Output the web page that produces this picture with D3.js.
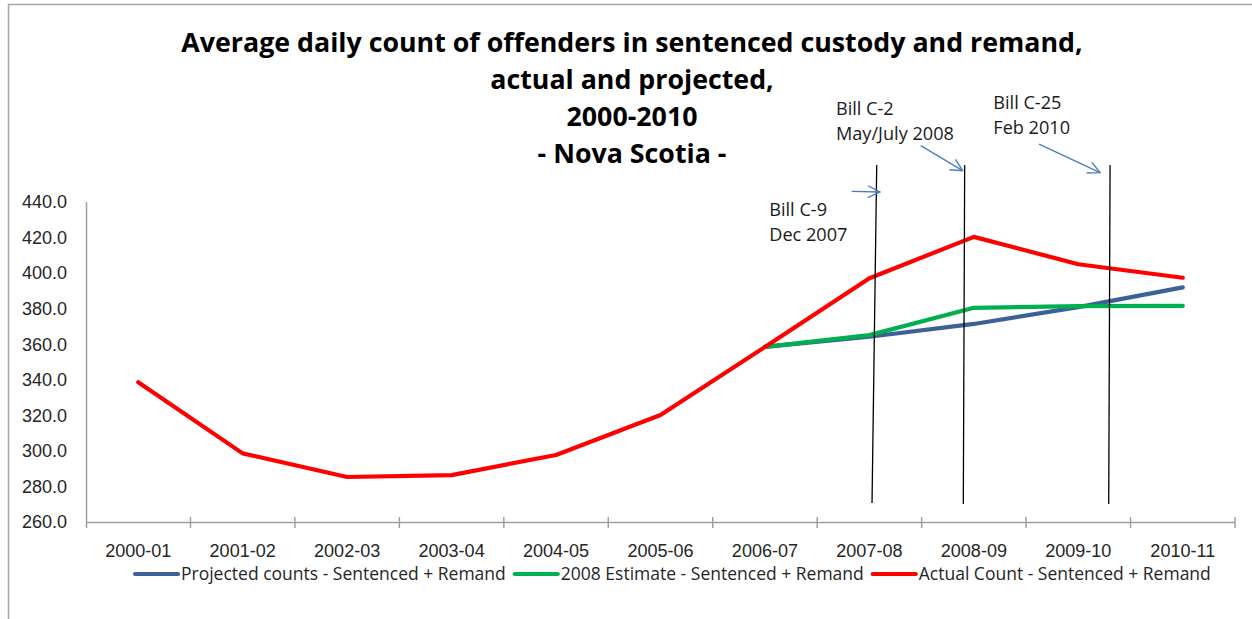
<!DOCTYPE html>
<html><head><meta charset="utf-8">
<script src="https://cdn.jsdelivr.net/npm/d3@7/dist/d3.min.js"></script>
<style>
html,body{margin:0;padding:0;background:#fff;}
svg{display:block;font-family:"Open Sans","Noto Sans",sans-serif;}
</style>
</head><body>
<svg id="chart" width="1252" height="619"></svg>
<script>
// ---- data ----
const categories = ["2000-01","2001-02","2002-03","2003-04","2004-05","2005-06","2006-07","2007-08","2008-09","2009-10","2010-11"];
const projectedCounts = [null,null,null,null,null,null,358.5,364.2,371.4,380.9,392.0];
const estimate2008    = [null,null,null,null,null,null,358.5,365.1,380.5,381.4,381.6];
const actualCount     = [338.6,298.6,285.3,286.4,297.7,320.2,358.5,397.1,420.4,405.0,397.4];
const seriesNames = ["Projected counts - Sentenced + Remand","2008 Estimate - Sentenced + Remand","Actual Count - Sentenced + Remand"];
const seriesColors = ["#3C6197","#00B050","#FF0000"];
const yTicks = [260,280,300,320,340,360,380,400,420,440];
const titleLines = ["Average daily count of offenders in sentenced custody and remand,","actual and projected,","2000-2010","- Nova Scotia -"];
// annotation markers, in category units (0..11) and value units
const billLabels = [["Bill C-9","Dec 2007"],["Bill C-2","May/July 2008"],["Bill C-25","Feb 2010"]];
const billLabelAt = [[6.541,432.1],[7.180,488.9],[8.686,492.1]];
const billLines = [[7.570,460.8,7.525,270.7],[8.412,460.8,8.399,270.1],[9.804,460.8,9.791,270.1]];
const billArrows = [[7.330,446.0,7.601,445.6],[7.991,471.7,8.393,457.6],[9.124,472.6,9.708,456.5]];

// ---- setup ----
const svg = d3.select("#chart");
const FONT_AXIS = "#262626";
function fit(str, weight, target){
  const t = svg.append("text").attr("font-size",100).attr("font-weight",weight).text(str);
  const w = t.node().getComputedTextLength(); t.remove();
  return 100*target/w;
}
const titleSize = fit(titleLines[0],"bold",902);
const axisSize = fit("440.0","normal",46);
const legendSize = fit(seriesNames[0],"normal",325);
const annoSize = fit("May/July 2008","normal",118);

const x = d3.scaleBand().domain(categories).range([86,1235]).padding(0);
const xu = d3.scaleLinear().domain([0,11]).range([86,1235]);
const y = d3.scaleLinear().domain([260,440]).range([522,202]);

// frame
svg.append("path").attr("d","M8.5,619 L8.5,4.5 L1252,4.5").attr("fill","none").attr("stroke","#A6A6A6").attr("stroke-width",1.5);

// title
svg.append("g").selectAll("text").data(titleLines).join("text")
  .attr("x",632).attr("y",(d,i)=>52+i*37)
  .attr("text-anchor","middle").attr("font-weight","bold").attr("font-size",titleSize)
  .attr("fill","#000").text(d=>d);

// y axis
const yAxis = svg.append("g").attr("transform","translate(86,0)")
  .call(d3.axisLeft(y).tickValues(yTicks).tickSize(0).tickPadding(19).tickFormat(d3.format(".1f")));
yAxis.select(".domain").remove();
yAxis.selectAll("text").attr("font-size",axisSize).attr("fill",FONT_AXIS).attr("font-family","inherit");
svg.append("line").attr("x1",86.5).attr("x2",86.5).attr("y1",y(440)).attr("y2",y(260)+6)
  .attr("stroke","#A0A0A0").attr("stroke-width",1.5);

// x axis
const xAxis = svg.append("g").attr("transform",`translate(0,${y(260)})`)
  .call(d3.axisBottom(x).tickSize(0).tickPadding(22));
xAxis.select(".domain").remove();
xAxis.selectAll("text").attr("font-size",axisSize).attr("fill",FONT_AXIS).attr("font-family","inherit");
svg.append("line").attr("x1",86).attr("x2",1235).attr("y1",y(260)+0.5).attr("y2",y(260)+0.5)
  .attr("stroke","#A0A0A0").attr("stroke-width",1.5);
svg.append("g").selectAll("line").data(d3.range(1,12)).join("line")
  .attr("x1",d=>xu(d)).attr("x2",d=>xu(d)).attr("y1",y(260)-5).attr("y2",y(260)+6)
  .attr("stroke","#A0A0A0").attr("stroke-width",1.5);

// series
const allSeries = [projectedCounts, estimate2008, actualCount];
const line = d3.line().defined(d=>d.v!=null).x(d=>x(d.c)+x.bandwidth()/2).y(d=>y(d.v));
svg.append("g").selectAll("path").data(allSeries).join("path")
  .attr("d",s=>line(s.map((v,i)=>({c:categories[i],v}))))
  .attr("fill","none").attr("stroke",(s,i)=>seriesColors[i]).attr("stroke-width",4.2)
  .attr("stroke-linejoin","round").attr("stroke-linecap","round");

// annotations
svg.append("defs").append("marker").attr("id","arr")
  .attr("viewBox","0 0 14 14").attr("markerWidth",14).attr("markerHeight",14)
  .attr("refX",13).attr("refY",7).attr("orient","auto").attr("markerUnits","userSpaceOnUse")
  .append("path").attr("d","M1,1 L13,7 L1,13").attr("fill","none").attr("stroke","#4A7EC3").attr("stroke-width",1.4);
svg.append("g").selectAll("line").data(billLines).join("line")
  .attr("x1",d=>xu(d[0])).attr("y1",d=>y(d[1])).attr("x2",d=>xu(d[2])).attr("y2",d=>y(d[3]))
  .attr("stroke","#000").attr("stroke-width",1.3);
svg.append("g").selectAll("line").data(billArrows).join("line")
  .attr("x1",d=>xu(d[0])).attr("y1",d=>y(d[1])).attr("x2",d=>xu(d[2])).attr("y2",d=>y(d[3]))
  .attr("stroke","#4A7EC3").attr("stroke-width",1.4).attr("marker-end","url(#arr)");
const ag = svg.append("g");
billLabels.forEach((lines,k)=>{
  lines.forEach((s,j)=>{
    ag.append("text").attr("x",xu(billLabelAt[k][0])).attr("y",y(billLabelAt[k][1])+j*24.5)
      .attr("font-size",annoSize).attr("fill","#1a1a1a").text(s);
  });
});

// legend
const lg = svg.append("g");
let lx = 135;
const ly = 574;
seriesNames.forEach((n,i)=>{
  lg.append("line").attr("x1",lx).attr("x2",lx+43).attr("y1",ly).attr("y2",ly)
    .attr("stroke",seriesColors[i]).attr("stroke-width",4.2).attr("stroke-linecap","round");
  const t = lg.append("text").attr("x",lx+46).attr("y",ly+6).attr("font-size",legendSize)
    .attr("fill",FONT_AXIS).text(n);
  lx = lx + 46 + t.node().getComputedTextLength() + 9;
});
</script>
</body></html>
